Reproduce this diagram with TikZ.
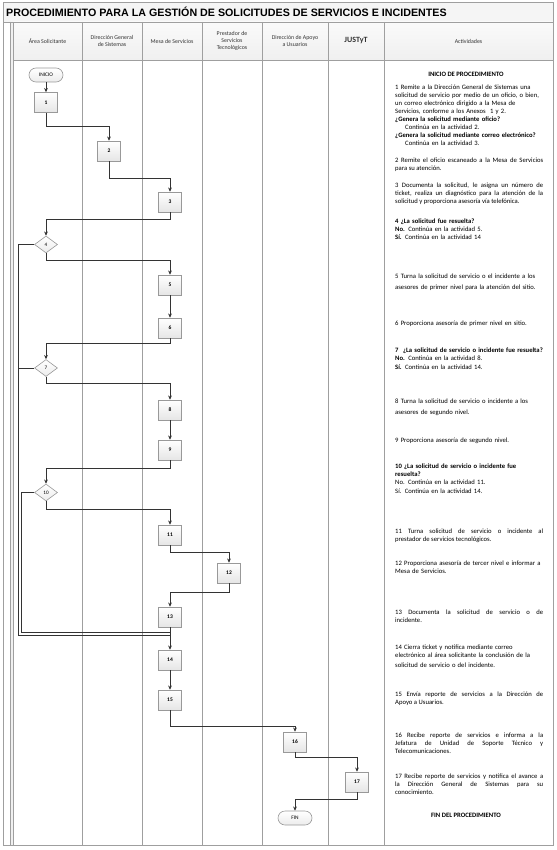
\documentclass[tikz,border=0pt]{standalone}
\usepackage{fontspec}
\setmainfont{Carlito}
\newfontfamily\titlefont{Liberation Sans}
\usetikzlibrary{arrows.meta,positioning,shapes.geometric}

\tikzset{
  lane/.style={draw=gray!75, line width=0.6pt},
  hdr/.style={font=\fontsize{5.9}{6.7}\selectfont, align=center, text=black!80, inner sep=0pt},
  actbox/.style={draw=gray!80, line width=0.6pt, top color=white, bottom color=gray!20,
    minimum width=23pt, minimum height=20pt, inner sep=0pt, font=\fontsize{5.5}{6}\selectfont\bfseries},
  decis/.style={diamond, draw=gray!80, line width=0.6pt, top color=white, bottom color=gray!15,
    minimum width=23pt, minimum height=17pt, inner sep=0pt, font=\fontsize{5.2}{6}\selectfont},
  term/.style={draw=gray!80, line width=0.6pt, rounded corners=7pt, minimum width=34pt,
    minimum height=14pt, inner sep=0pt, top color=white, bottom color=gray!15,
    font=\fontsize{5.4}{6}\selectfont},
  flow/.style={draw=black!80, line width=0.7pt, -{Stealth[length=4.2pt,width=3.8pt]}},
  link/.style={draw=black!80, line width=0.7pt},
  txt/.style={anchor=base west, inner sep=0pt, text width=156pt, align=left,
    font=\fontsize{6.65}{8}\selectfont},
  jtxt/.style={txt, text width=148pt, align=justify},
  ctxt/.style={anchor=base, inner sep=0pt, font=\fontsize{6.65}{8}\selectfont\bfseries}
}

\begin{document}
\begin{tikzpicture}[x=1pt, y=-1pt]
  \useasboundingbox (0,0) rectangle (556,850);
  % swimlane frame
  \fill[gray!8] (3,2) rectangle (553,22);
  \shade[top color=gray!4, bottom color=gray!12] (13,22) rectangle (553,60);
  \fill[gray!12] (10,22) rectangle (13,845);
  \draw[lane] (3,2) rectangle (553,845);
  \draw[lane] (3,22) -- (553,22);
  \draw[lane] (13,60) -- (553,60);
  \draw[lane] (10,22) -- (10,845);
  \draw[lane] (13,22) -- (13,845);
  \foreach \x in {82,142,202,262,328,384}
    \draw[lane] (\x,22) -- (\x,845);

  \node[anchor=base west, inner sep=0pt, font=\titlefont\bfseries\fontsize{10.7}{12}\selectfont]
    (title) at (6,16.5) {PROCEDIMIENTO PARA LA GESTIÓN DE SOLICITUDES DE SERVICIOS E INCIDENTES};

  % lane headers
  \node[hdr] (h1) at (47.5,41) {Área Solicitante};
  \node[hdr] (h2) at (112,41) {Dirección General\\de Sistemas};
  \node[hdr] (h3) at (172,41) {Mesa de Servicios};
  \node[hdr] (h4) at (232,41) {Prestador de\\Servicios\\Tecnológicos};
  \node[hdr] (h5) at (295,41) {Dirección de Apoyo\\a Usuarios};
  \node[hdr, font=\fontsize{8}{9}\selectfont\bfseries] (h6) at (356,41) {JUSTyT};
  \node[hdr] (h7) at (468.5,41) {Actividades};

  % flow nodes
  \node[term] (ini) at (46,75) {INICIO};
  \node[actbox] (a1) at (46,102.5) {1};
  \node[actbox] (a2) at (109,151) {2};
  \node[actbox] (a3) at (170,202) {3};
  \node[decis] (d4) at (46,244.5) {4};
  \node[actbox] (a5) at (170,285) {5};
  \node[actbox] (a6) at (170,328) {6};
  \node[decis] (d7) at (46,368) {7};
  \node[actbox] (a8) at (170,410) {8};
  \node[actbox] (a9) at (170,450) {9};
  \node[decis] (d10) at (46,492.5) {10};
  \node[actbox] (a11) at (170,535) {11};
  \node[actbox] (a12) at (229,573) {12};
  \node[actbox] (a13) at (170,617) {13};
  \node[actbox] (a14) at (170,660) {14};
  \node[actbox] (a15) at (170,700) {15};
  \node[actbox] (a16) at (295,742) {16};
  \node[actbox] (a17) at (357,782) {17};
  \node[term] (fin) at (295,818) {FIN};

  % connectors
  \draw[flow] (ini) -- (a1);
  \draw[flow] (a1.south) -- ++(0,13.5) -| (a2.north);
  \draw[flow] (a2.south) -- ++(0,17) -| (a3.north);
  \draw[flow] (a3.south) -- ++(0,7) -| (d4.north);
  \draw[flow] (d4.south) -- ++(0,7) -| (a5.north);
  \draw[flow] (a5) -- (a6);
  \draw[flow] (a6.south) -- ++(0,5) -| (d7.north);
  \draw[flow] (d7.south) -- ++(0,7) -| (a8.north);
  \draw[flow] (a8) -- (a9);
  \draw[flow] (a9.south) -- ++(0,8) -| (d10.north);
  \draw[flow] (d10.south) -- ++(0,8) -| (a11.north);
  \draw[flow] (a11.south) -- ++(0,7) -| (a12.north);
  \draw[flow] (a12.south) -- ++(0,9) -| (a13.north);
  \draw[flow] (a13) -- (a14);
  \draw[flow] (a14) -- (a15);
  \draw[flow] (a15.south) -- ++(0,16) -| (a16.north);
  \draw[flow] (a16.south) -- ++(0,5) -| (a17.north);
  \draw[flow] (a17.south) -- ++(0,7) -| (fin.north);
  % "Sí" returns to activity 14
  \coordinate (ret1) at (18,635);
  \coordinate (ret2) at (21,632);
  \draw[link] (d4.west) -| (ret1) -- (ret1 -| a13.south);
  \draw[link] (d7.west) -- (d7.west -| ret1);
  \draw[link] (d10.west) -| (ret2) -- (ret2 -| a13.south);

  % activities column
  \node[ctxt] (tini) at (466,76.5) {INICIO DE PROCEDIMIENTO};
  \node[txt] (t1) at (395,89.5) {1 Remite a la Dirección General de Sistemas una\\
    solicitud de servicio por medio de un oficio, o bien,\\
    un correo electrónico dirigido a la Mesa de\\
    Servicios, conforme a los Anexos\ \ 1 y 2.\\
    \textbf{¿Genera la solicitud mediante oficio?}\\
    \hspace*{10pt}Continúa en la actividad 2.\\
    \textbf{¿Genera la solicitud mediante correo electrónico?}\\
    \hspace*{10pt}Continúa en la actividad 3.};
  \node[jtxt] (t2) at (395,162.5) {2 Remite el oficio escaneado a la Mesa de Servicios\linebreak
    para su atención.};
  \node[jtxt] (t3) at (395,187.5) {3 Documenta la solicitud, le asigna un número de\linebreak
    ticket, realiza un diagnóstico para la atención de la\linebreak
    solicitud y proporciona asesoría vía telefónica.};
  \node[txt] (t4) at (395,223.5) {\textbf{4 ¿La solicitud fue resuelta?}\\
    \textbf{No.} Continúa en la actividad 5.\\[0.5pt]
    \textbf{Sí.} Continúa en la actividad 14};
  \node[txt] (t5) at (395,278.5) {5 Turna la solicitud de servicio o el incidente a los\\[3pt]
    asesores de primer nivel para la atención del sitio.};
  \node[txt] (t6) at (395,325.5) {6 Proporciona asesoría de primer nivel en sitio.};
  \node[txt] (t7) at (395,352.5) {\textbf{7\ \ ¿La solicitud de servicio o incidente fue resuelta?}\\
    \textbf{No.} Continúa en la actividad 8.\\[0.5pt]
    \textbf{Sí.} Continúa en la actividad 14.};
  \node[txt] (t8) at (395,403.5) {8 Turna la solicitud de servicio o incidente a los\\[3pt]
    asesores de segundo nivel.};
  \node[txt] (t9) at (395,442.5) {9 Proporciona asesoría de segundo nivel.};
  \node[txt] (t10) at (395,468.5) {\textbf{10 ¿La solicitud de servicio o incidente fue}\\
    \textbf{resuelta?}\\
    No. Continúa en la actividad 11.\\[0.5pt]
    Sí. Continúa en la actividad 14.};
  \node[jtxt] (t11) at (395,533.5) {11 Turna solicitud de servicio o incidente al\linebreak
    prestador de servicios tecnológicos.};
  \node[txt] (t12) at (395,565.5) {12 Proporciona asesoría de tercer nivel e informar a\\
    Mesa de Servicios.};
  \node[jtxt] (t13) at (395,614.5) {13 Documenta la solicitud de servicio o de\linebreak
    incidente.};
  \node[txt] (t14) at (395,649.5) {14 Cierra ticket y notifica mediante correo\\
    electrónico al área solicitante la conclusión de la\\[2pt]
    solicitud de servicio o del incidente.};
  \node[jtxt] (t15) at (395,696.5) {15 Envía reporte de servicios a la Dirección de\linebreak
    Apoyo a Usuarios.};
  \node[jtxt] (t16) at (395,737.5) {16 Recibe reporte de servicios e informa a la\linebreak
    Jefatura de Unidad de Soporte Técnico y\linebreak
    Telecomunicaciones.};
  \node[jtxt] (t17) at (395,778.5) {17 Recibe reporte de servicios y notifica el avance a\linebreak
    la Dirección General de Sistemas para su\linebreak
    conocimiento.};
  \node[ctxt] (tfin) at (466,817.5) {FIN DEL PROCEDIMIENTO};
\end{tikzpicture}
\end{document}
